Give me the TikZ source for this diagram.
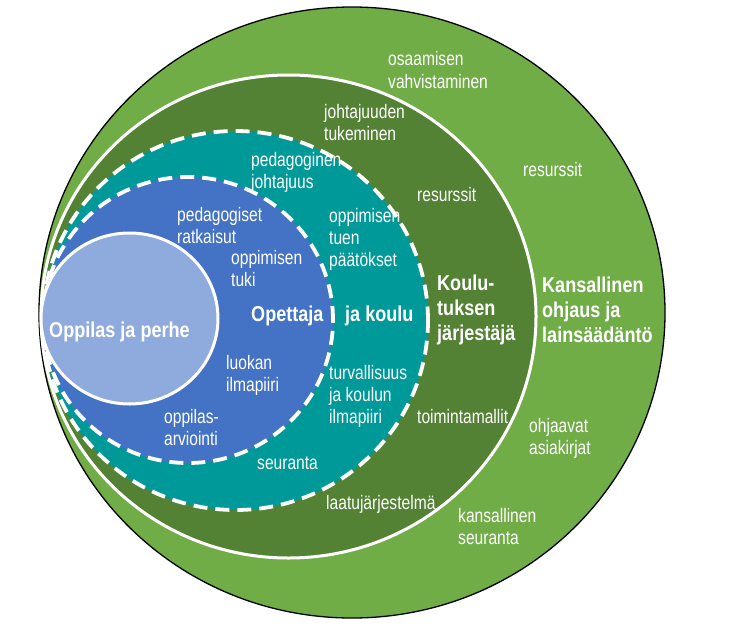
\documentclass[tikz,border=0pt]{standalone}
\usepackage{fontspec}
\setmainfont{Liberation Sans}[FakeStretch=0.80, BoldFeatures={FakeStretch=0.84}]
\definecolor{outergreen}{HTML}{70AD47}
\definecolor{darkgreen}{HTML}{548235}
\definecolor{tealc}{HTML}{009999}
\definecolor{bluec}{HTML}{4472C4}
\definecolor{lightbluec}{HTML}{8FAADC}
\tikzset{
  lbl/.style={text=white, anchor=base west, inner sep=0pt, align=left, font=\fontsize{19.5}{22}\selectfont},
  blbl/.style={lbl, font=\bfseries\fontsize{21.5}{25}\selectfont},
  solidring/.style={draw=white, line width=3pt},
  dashring/.style={draw=white, line width=3.8pt, dash pattern=on 14pt off 8pt}
}
\begin{document}
\begin{tikzpicture}[x=1pt,y=-1pt]
\useasboundingbox (0,0) rectangle (730,634);
% rings
\path[fill=outergreen, draw=black, line width=1.3pt] (352,312.5) ellipse [x radius=313pt, y radius=305.5pt];
\path[fill=darkgreen, solidring] (288.5,316.5) ellipse [x radius=247.5pt, y radius=241.5pt];
\path[fill=tealc, dashring] (235.5,320.5) ellipse [x radius=192.5pt, y radius=189.5pt];
\path[fill=bluec, dashring] (188,320) ellipse [x radius=145pt, y radius=143pt];
\path[fill=lightbluec, solidring] (129.5,318.5) ellipse [x radius=88.5pt, y radius=85.5pt];
% outer ring labels (anchor = baseline of last line)
\node[lbl] (osaam) at (388,88) {osaamisen\\vahvistaminen};
\node[lbl] (res1) at (523,176) {resurssit};
\node[blbl] (kans) at (542,342) {Kansallinen\\ohjaus ja\\lainsäädäntö};
\node[lbl] (ohj) at (529,454) {ohjaavat\\asiakirjat};
\node[lbl] (kseur) at (458,544) {kansallinen\\seuranta};
% education provider ring
\node[lbl] (joht) at (324,140) {johtajuuden\\tukeminen};
\node[lbl] (res2) at (417,201) {resurssit};
\node[blbl] (kj) at (437,340) {Koulu-\\tuksen\\järjestäjä};
\node[lbl] (toim) at (417,423) {toimintamallit};
\node[lbl] (laatu) at (326,509) {laatujärjestelmä};
% school ring
\node[lbl] (pj) at (251,188) {pedagoginen\\johtajuus};
\node[lbl] (otp) at (329,266) {oppimisen\\tuen\\päätökset};
\node[blbl] (jak) at (345,321) {ja koulu};
\node[lbl] (tur) at (329,423) {turvallisuus\\ja koulun\\ilmapiiri};
\node[lbl] (seur) at (257,469) {seuranta};
% teacher circle
\node[lbl] (pr) at (177,243) {pedagogiset\\ratkaisut};
\node[lbl] (ot) at (231,286) {oppimisen\\tuki};
\node[blbl] (ope) at (251,321) {Opettaja};
\node[lbl] (li) at (226,391) {luokan\\ilmapiiri};
\node[lbl] (oa) at (164,445) {oppilas-\\arviointi};
% pupil circle
\node[blbl] (opp) at (49,337) {Oppilas ja perhe};
\end{tikzpicture}
\end{document}
